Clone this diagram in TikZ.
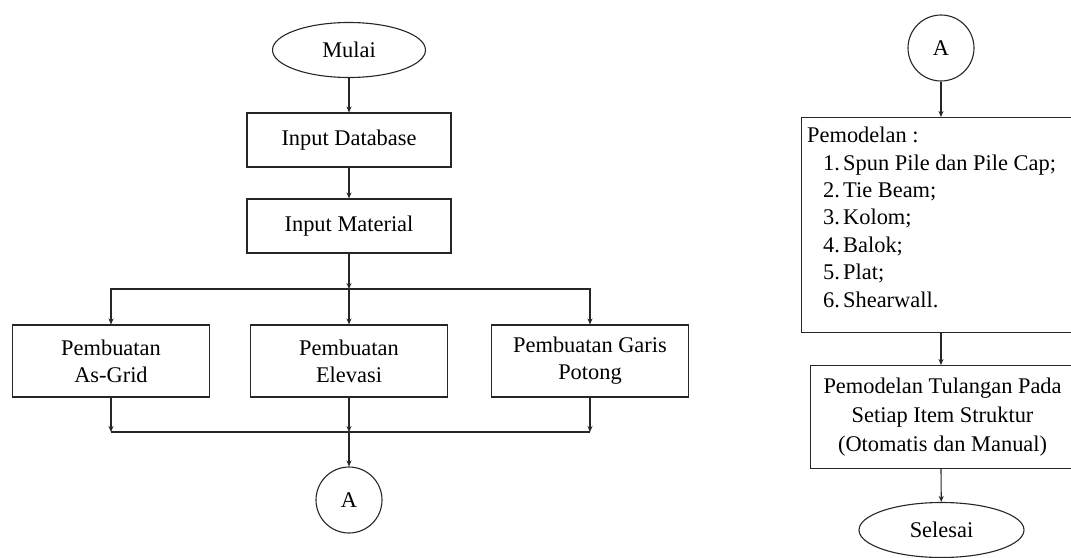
\documentclass[tikz,border=0pt]{standalone}
\usepackage{fontspec}
\setmainfont{Liberation Serif}
\usetikzlibrary{arrows.meta,shapes.geometric,calc}
\begin{document}
\begin{tikzpicture}[x=1pt,y=-1pt,
  every node/.style={font=\fontsize{22.4}{27}\selectfont, text=black},
  ln/.style={draw=black!85, line width=1.1pt},
  arr/.style={ln, -{Stealth[length=6pt,width=5pt]}},
  boxn/.style={ln, rectangle, inner sep=0pt, align=center},
  ell/.style={ln, ellipse, inner sep=0pt},
  conn/.style={ln, circle, inner sep=0pt, minimum size=66pt}]
\useasboundingbox (0,0) rectangle (1071,557);
\clip (0,0) rectangle (1071,557);
% left flow
\node[ell, minimum width=153pt, minimum height=55pt] (mulai) at (349,50) {Mulai};
\node[boxn, minimum width=204pt, minimum height=54pt] (db) at (349,140) {Input Database};
\node[boxn, minimum width=204pt, minimum height=54pt] (mat) at (349,226) {Input Material};
\coordinate (br) at (349,289);
\node[boxn, minimum width=197pt, minimum height=72pt] (g1) at (111,361) {Pembuatan\\As-Grid};
\node[boxn, minimum width=197pt, minimum height=72pt] (g2) at (349,361) {Pembuatan\\Elevasi};
\node[boxn, minimum width=197pt, minimum height=72pt] (g3) at (590,361) {Pembuatan Garis\\Potong};
\coordinate (mg) at (349,432);
\node[conn] (a1) at (349,500) {A};
\draw[arr] (mulai) -- (db);
\draw[arr] (db) -- (mat);
\draw[arr] (mat) -- (br);
\draw[arr] (br) -| (g1.north);
\draw[arr] (br) -- (g2.north);
\draw[arr] (br) -| (g3.north);
\draw[arr] (g1.south) -- (g1.south |- mg);
\draw[arr] (g2.south) -- (mg);
\draw[arr] (g3.south) -- (g3.south |- mg);
\draw[ln] (g1.south |- mg) -- (g3.south |- mg);
\draw[arr] (mg) -- (a1);
% right flow
\node[conn] (a2) at (941,48) {A};
\node[boxn, anchor=north west, minimum width=281pt, minimum height=215pt] (pem) at (801,117) {};
\node[anchor=north west, inner sep=0pt, align=left, font=\fontsize{22.4}{27.4}\selectfont] (pemtxt) at (807,127) {Pemodelan :\\
\hspace*{16pt}\makebox[20pt][l]{1.}Spun Pile dan Pile Cap;\\
\hspace*{16pt}\makebox[20pt][l]{2.}Tie Beam;\\
\hspace*{16pt}\makebox[20pt][l]{3.}Kolom;\\
\hspace*{16pt}\makebox[20pt][l]{4.}Balok;\\
\hspace*{16pt}\makebox[20pt][l]{5.}Plat;\\
\hspace*{16pt}\makebox[20pt][l]{6.}Shearwall.};
\node[boxn, anchor=north west, minimum width=264pt, minimum height=103pt, font=\fontsize{22.4}{29}\selectfont] (tul) at (810,365) {Pemodelan Tulangan Pada\\Setiap Item Struktur\\(Otomatis dan Manual)};
\node[ell, minimum width=165pt, minimum height=55pt] (selesai) at (941.5,530) {Selesai};
\draw[arr] (a2) -- (a2 |- pem.north);
\draw[arr] (pem.south -| a2) -- (tul.north -| a2);
\draw[arr] (tul.south -| a2) -- (selesai);
\end{tikzpicture}
\end{document}
